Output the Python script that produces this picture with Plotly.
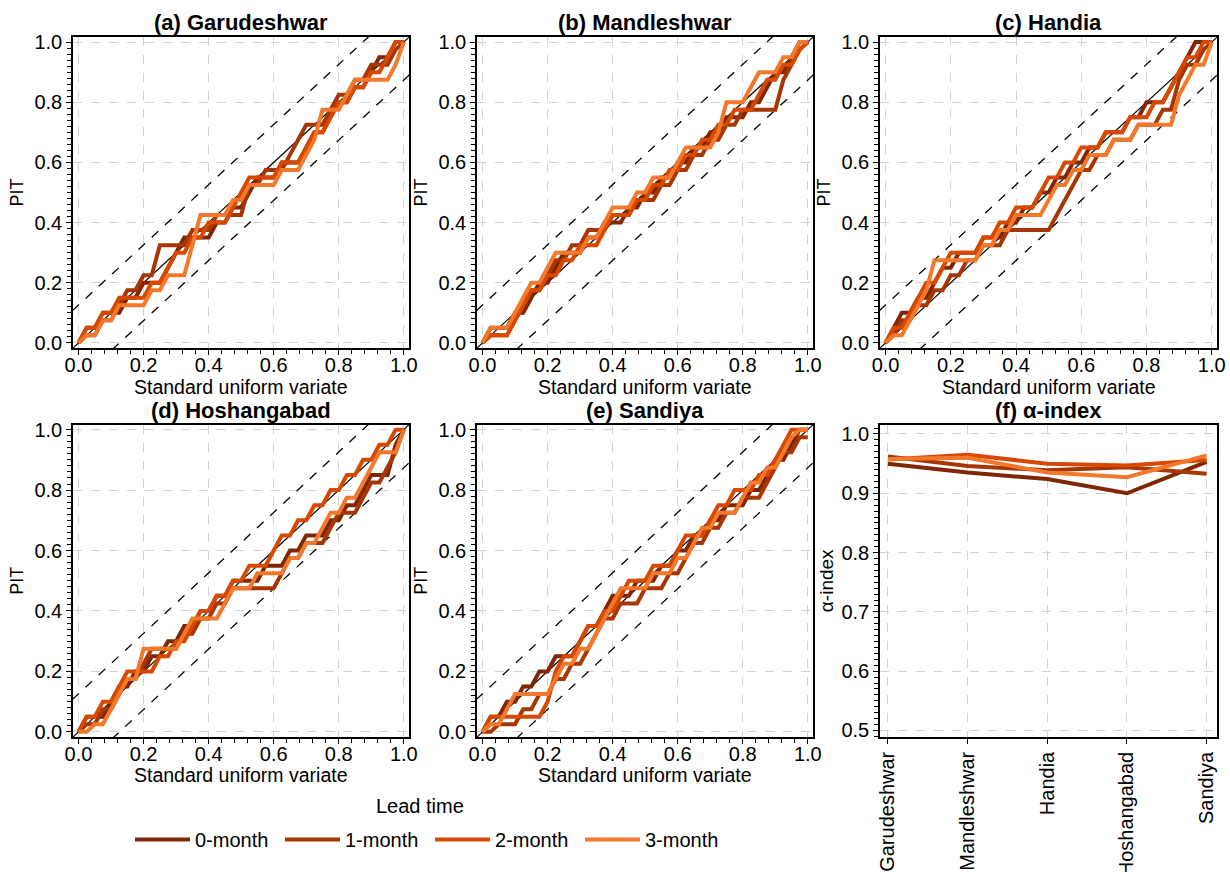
import plotly.graph_objects as go

# ---------------- data ----------------
lead_times = ["0-month", "1-month", "2-month", "3-month"]
lead_colors = ["#7F2704", "#A63603", "#D94801", "#F3782B"]

# standard uniform variate (x of PIT plots)
uniform_variate = [0.0, 0.025, 0.05, 0.075, 0.1, 0.125, 0.15, 0.175, 0.2, 0.225,
                   0.25, 0.275, 0.3, 0.325, 0.35, 0.375, 0.4, 0.425, 0.45, 0.475,
                   0.5, 0.525, 0.55, 0.575, 0.6, 0.625, 0.65, 0.675, 0.7, 0.725,
                   0.75, 0.775, 0.8, 0.825, 0.85, 0.875, 0.9, 0.925, 0.95, 0.975, 1.0]

# (a) Garudeshwar
pit_garudeshwar_0 = [0, .05, .05, .1, .1, .1, .15, .15, .2, .2, .2, .25, .3, .35, .35, .35, .35, .4, .4, .45,
                     .45, .5, .55, .55, .55, .6, .6, .6, .65, .7, .7, .75, .8, .8, .85, .85, .9, .95, .95, 1.0, 1.0]
pit_garudeshwar_1 = [0, .025, .025, .075, .075, .125, .175, .175, .225, .225, .325, .325, .325, .325, .375, .375, .375, .425, .425, .425,
                     .425, .525, .525, .575, .575, .575, .625, .675, .725, .725, .725, .775, .825, .825, .875, .875, .925, .925, .925, .975, 1.0]
pit_garudeshwar_2 = [0, .05, .05, .1, .1, .15, .15, .15, .15, .2, .2, .25, .3, .3, .35, .35, .4, .4, .4, .45,
                     .5, .55, .55, .55, .55, .6, .6, .6, .65, .7, .7, .75, .8, .8, .85, .85, .9, .9, .95, 1.0, 1.0]
pit_garudeshwar_3 = [0, .025, .025, .075, .075, .125, .125, .125, .125, .175, .175, .225, .225, .225, .325, .425, .425, .425, .425, .475,
                     .475, .525, .525, .525, .525, .575, .575, .575, .625, .675, .775, .775, .775, .825, .875, .875, .875, .875, .875, .925, 1.0]

# (b) Mandleshwar
pit_mandleshwar_0 = [0, .05, .05, .05, .1, .1, .15, .2, .2, .25, .3, .3, .3, .35, .35, .4, .4, .4, .45, .45,
                     .5, .5, .55, .55, .6, .6, .65, .65, .7, .7, .75, .75, .75, .8, .8, .85, .9, .9, .95, 1.0, 1.0]
pit_mandleshwar_1 = [0, .025, .025, .025, .075, .125, .175, .175, .225, .275, .275, .325, .325, .375, .375, .375, .425, .425, .425, .475,
                     .475, .475, .525, .525, .575, .575, .625, .625, .675, .675, .725, .725, .775, .775, .775, .775, .775, .875, .925, .975, 1.0]
pit_mandleshwar_2 = [0, .025, .025, .025, .075, .125, .175, .175, .225, .225, .275, .275, .325, .325, .325, .375, .425, .425, .425, .475,
                     .475, .525, .525, .575, .575, .625, .625, .675, .675, .725, .725, .775, .775, .775, .825, .875, .875, .925, .925, .975, 1.0]
pit_mandleshwar_3 = [0, .05, .05, .05, .1, .15, .2, .2, .25, .3, .3, .3, .3, .35, .35, .4, .45, .45, .45, .5,
                     .5, .55, .55, .55, .6, .65, .65, .65, .65, .7, .8, .8, .8, .85, .9, .9, .9, .95, .95, 1.0, 1.0]

# (c) Handia
pit_handia_0 = [0, .05, .1, .1, .15, .15, .2, .25, .25, .3, .3, .3, .35, .35, .35, .4, .4, .45, .45, .5,
                .5, .55, .55, .6, .6, .65, .65, .7, .7, .7, .75, .75, .8, .8, .8, .85, .9, .95, 1.0, 1.0, 1.0]
pit_handia_1 = [0, .025, .075, .075, .125, .125, .175, .175, .225, .225, .275, .275, .325, .325, .325, .375, .375, .375, .375, .375,
                .375, .425, .475, .525, .575, .575, .625, .625, .675, .675, .675, .725, .725, .725, .775, .775, .875, .925, .925, .975, 1.0]
pit_handia_2 = [0, .05, .05, .1, .15, .2, .2, .25, .3, .3, .3, .3, .35, .35, .4, .4, .45, .45, .45, .5,
                .55, .55, .6, .6, .65, .65, .65, .7, .7, .7, .75, .75, .75, .8, .8, .85, .9, .95, .95, 1.0, 1.0]
pit_handia_3 = [0, .025, .025, .075, .125, .175, .275, .275, .275, .275, .275, .275, .325, .325, .375, .375, .425, .425, .425, .425,
                .475, .525, .525, .575, .575, .625, .625, .625, .675, .675, .675, .725, .725, .725, .725, .725, .825, .875, .925, .925, 1.0]

# (d) Hoshangabad
pit_hoshangabad_0 = [0, .05, .05, .05, .1, .15, .15, .2, .2, .25, .25, .3, .3, .35, .35, .4, .4, .45, .45, .5,
                     .5, .5, .5, .55, .55, .55, .6, .6, .65, .65, .65, .7, .7, .75, .75, .8, .85, .85, .85, .95, 1.0]
pit_hoshangabad_1 = [0, .025, .025, .075, .075, .125, .175, .175, .225, .275, .275, .275, .275, .325, .325, .375, .375, .425, .425, .475,
                     .475, .475, .475, .475, .475, .525, .575, .575, .625, .625, .625, .675, .725, .725, .725, .775, .825, .825, .875, .925, 1.0]
pit_hoshangabad_2 = [0, .05, .05, .1, .1, .15, .2, .2, .2, .2, .25, .25, .3, .3, .35, .4, .4, .45, .45, .5,
                     .5, .55, .55, .55, .6, .65, .65, .7, .7, .75, .75, .8, .8, .85, .85, .9, .9, .95, .95, 1.0, 1.0]
pit_hoshangabad_3 = [0, 0, .025, .025, .075, .125, .175, .175, .275, .275, .275, .275, .275, .325, .375, .375, .375, .375, .425, .475,
                     .475, .475, .525, .525, .525, .525, .575, .575, .625, .625, .675, .725, .725, .775, .775, .825, .875, .925, .925, .925, 1.0]

# (e) Sandiya
pit_sandiya_0 = [0, .05, .05, .1, .1, .15, .15, .2, .2, .25, .25, .25, .3, .35, .35, .4, .45, .45, .45, .5,
                 .5, .5, .55, .55, .6, .6, .65, .65, .7, .7, .75, .75, .75, .8, .8, .85, .9, .9, .95, 1.0, 1.0]
pit_sandiya_1 = [0, 0, .025, .025, .025, .075, .075, .125, .125, .175, .175, .225, .225, .275, .325, .375, .375, .425, .425, .425,
                 .475, .475, .475, .525, .525, .575, .625, .625, .675, .675, .725, .725, .775, .775, .775, .825, .875, .925, .925, .975, .975]
pit_sandiya_2 = [0, .05, .05, .05, .05, .05, .05, .05, .1, .2, .25, .25, .3, .35, .35, .4, .4, .45, .5, .5,
                 .5, .55, .55, .55, .6, .65, .65, .65, .7, .75, .75, .8, .8, .8, .85, .85, .9, .95, 1.0, 1.0, 1.0]
pit_sandiya_3 = [0, .025, .025, .075, .125, .125, .125, .125, .125, .175, .225, .225, .275, .275, .325, .375, .425, .475, .475, .475,
                 .475, .525, .525, .525, .575, .575, .625, .675, .675, .725, .725, .725, .775, .825, .825, .875, .875, .925, .975, 1.0, 1.0]

# (f) alpha-index
stations = ["Garudeshwar", "Mandleshwar", "Handia", "Hoshangabad", "Sandiya"]
alpha_0 = [0.950, 0.935, 0.924, 0.900, 0.953]
alpha_1 = [0.962, 0.946, 0.939, 0.944, 0.933]
alpha_2 = [0.957, 0.965, 0.950, 0.947, 0.956]
alpha_3 = [0.958, 0.960, 0.935, 0.927, 0.964]

ks_band = 0.126           # Kolmogorov confidence band half-width
ref_x = [-0.1, 1.1]       # reference lines span the whole panel (clipped)

panels = [
    ("(a) Garudeshwar", [pit_garudeshwar_0, pit_garudeshwar_1, pit_garudeshwar_2, pit_garudeshwar_3]),
    ("(b) Mandleshwar", [pit_mandleshwar_0, pit_mandleshwar_1, pit_mandleshwar_2, pit_mandleshwar_3]),
    ("(c) Handia", [pit_handia_0, pit_handia_1, pit_handia_2, pit_handia_3]),
    ("(d) Hoshangabad", [pit_hoshangabad_0, pit_hoshangabad_1, pit_hoshangabad_2, pit_hoshangabad_3]),
    ("(e) Sandiya", [pit_sandiya_0, pit_sandiya_1, pit_sandiya_2, pit_sandiya_3]),
]
alphas = [alpha_0, alpha_1, alpha_2, alpha_3]

# ---------------- layout geometry ----------------
W, H = 1230, 872
col_dom = [(73 / W, 409 / W), (477 / W, 813 / W), (880 / W, 1217 / W)]
row_dom = [(1 - 348 / H, 1 - 37 / H), (1 - 737 / H, 1 - 424.5 / H)]
xtitle_y = [1 - 387 / H, 1 - 775 / H]

FONT = "Liberation Sans, Arial, sans-serif"
fig = go.Figure()

common_axis = dict(showline=True, linecolor="black", linewidth=1.5, mirror=True, automargin=False,
                   ticks="outside", ticklen=5, tickwidth=1.3, tickcolor="black",
                   showgrid=True, gridcolor="#d3d3d3", griddash="dash", gridwidth=1.2,
                   zeroline=False, tickfont=dict(size=20, color="black", family=FONT))

annotations = []
for p, (title, series) in enumerate(panels):
    idx = p + 1
    xr = "x" if idx == 1 else f"x{idx}"
    yr = "y" if idx == 1 else f"y{idx}"
    col, row = p % 3, p // 3
    # reference lines
    fig.add_trace(go.Scatter(x=ref_x, y=[v + ks_band for v in ref_x], mode="lines",
                             line=dict(color="black", width=1.3, dash="dash"),
                             showlegend=False, hoverinfo="skip", xaxis=xr, yaxis=yr))
    fig.add_trace(go.Scatter(x=ref_x, y=[v - ks_band for v in ref_x], mode="lines",
                             line=dict(color="black", width=1.3, dash="dash"),
                             showlegend=False, hoverinfo="skip", xaxis=xr, yaxis=yr))
    fig.add_trace(go.Scatter(x=ref_x, y=ref_x, mode="lines",
                             line=dict(color="black", width=1.2),
                             showlegend=False, hoverinfo="skip", xaxis=xr, yaxis=yr))
    for k, s in enumerate(series):
        fig.add_trace(go.Scatter(x=uniform_variate, y=s, mode="lines",
                                 line=dict(color=lead_colors[k], width=4),
                                 name=lead_times[k], legendgroup=lead_times[k],
                                 showlegend=(p == 0), xaxis=xr, yaxis=yr))
    xa = dict(common_axis, domain=list(col_dom[col]), anchor=yr, range=[-0.017, 1.016],
              dtick=0.2, tick0=0, tickformat=".1f", ticklabelstandoff=-7,
              minor=dict(dtick=0.04, tick0=0, ticks="outside", ticklen=4, tickcolor="black", showgrid=False))
    ya = dict(common_axis, domain=list(row_dom[row]), anchor=xr, range=[-0.017, 1.017],
              dtick=0.2, tick0=0, tickformat=".1f",
              minor=dict(dtick=0.02, tick0=0, ticks="outside", ticklen=4, tickcolor="black", showgrid=False),
              title=dict(text="PIT", font=dict(size=18, color="black", family=FONT), standoff=6))
    fig.layout["xaxis" if idx == 1 else f"xaxis{idx}"] = xa
    fig.layout["yaxis" if idx == 1 else f"yaxis{idx}"] = ya
    annotations.append(dict(text=f"<b>{title}</b>", xref="paper", yref="paper",
                            x=sum(col_dom[col]) / 2, y=row_dom[row][1], yanchor="bottom",
                            xanchor="center", yshift=0, showarrow=False,
                            font=dict(size=22, color="black", family=FONT)))
    annotations.append(dict(text="Standard uniform variate", xref="paper", yref="paper",
                            x=sum(col_dom[col]) / 2, y=xtitle_y[row], yanchor="middle",
                            xanchor="center", showarrow=False,
                            font=dict(size=19.5, color="black", family=FONT)))

# (f) alpha-index
station_pos = list(range(len(stations)))
for k, a in enumerate(alphas):
    fig.add_trace(go.Scatter(x=station_pos, y=a, mode="lines",
                             line=dict(color=lead_colors[k], width=4),
                             name=lead_times[k], legendgroup=lead_times[k],
                             showlegend=False, xaxis="x6", yaxis="y6"))
fig.layout["xaxis6"] = dict(common_axis, domain=list(col_dom[2]), anchor="y6", range=[-0.1, 4.13],
                            tickmode="array", tickvals=station_pos, ticktext=stations, tickangle=-90)
fig.layout["yaxis6"] = dict(common_axis, domain=list(row_dom[1]), anchor="x6", range=[0.489, 1.016],
                            dtick=0.1, tick0=0.5, tickformat=".1f",
                            minor=dict(dtick=0.01, tick0=0.5, ticks="outside", ticklen=4, tickcolor="black", showgrid=False),
                            title=dict(text="α-index", font=dict(size=19, color="black", family=FONT), standoff=3))
annotations.append(dict(text="<b>(f) α-index</b>", xref="paper", yref="paper",
                        x=sum(col_dom[2]) / 2, y=row_dom[1][1], yanchor="bottom",
                        xanchor="center", yshift=0, showarrow=False,
                        font=dict(size=22, color="black", family=FONT)))
# legend title
annotations.append(dict(text="Lead time", xref="paper", yref="paper",
                        x=420 / W, y=1 - 806 / H, xanchor="center", yanchor="middle",
                        showarrow=False, font=dict(size=20, color="black", family=FONT)))

fig.update_layout(
    width=W, height=H, margin=dict(l=0, r=0, t=0, b=0, autoexpand=False),
    paper_bgcolor="white", plot_bgcolor="white",
    font=dict(family=FONT, color="black"),
    annotations=annotations,
    legend=dict(orientation="h", x=430 / W, xanchor="center", y=1 - 820 / H, yanchor="top",
                font=dict(size=20, color="black"), itemwidth=55,
                entrywidth=80, entrywidthmode="pixels", bgcolor="rgba(0,0,0,0)"),
    showlegend=True,
)

fig.write_html("out.html", config={"displayModeBar": False},
               post_script="document.body.style.margin='0px';")
